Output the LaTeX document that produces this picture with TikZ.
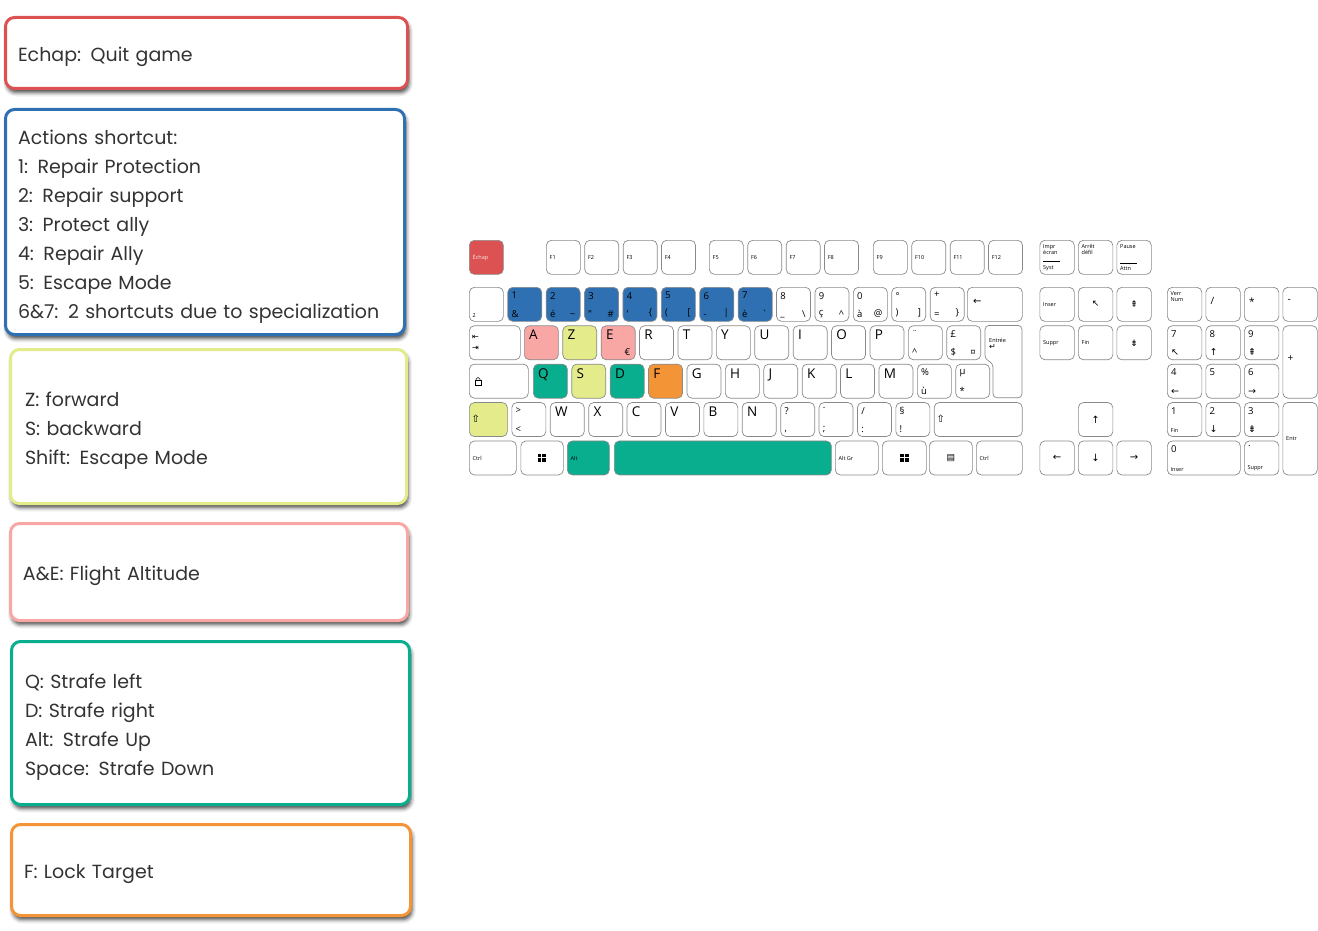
\documentclass[tikz,border=0pt]{standalone}
\usepackage{fontspec}
\setmainfont{Open Sans}
\newfontfamily\boxfont{Poppins}
\newfontfamily\symfont{DejaVu Sans}
\usetikzlibrary{shadows.blur}
\definecolor{escred}{HTML}{DC5252}
\definecolor{actblue}{HTML}{2F70B2}
\definecolor{movyellow}{HTML}{E3EB8A}
\definecolor{altpink}{HTML}{F9A7A5}
\definecolor{strafeteal}{HTML}{08AE8E}
\definecolor{lockorange}{HTML}{F39536}
\definecolor{keyline}{HTML}{8A8A8A}
\newcommand{\winlogo}{\vbox{\offinterlineskip\hbox{\rule{3.6pt}{3.6pt}\kern1pt\rule{4pt}{3.6pt}}\kern1pt\hbox{\rule{3.6pt}{3.6pt}\kern1pt\rule{4pt}{3.6pt}}}}

\begin{document}
\begin{tikzpicture}[x=1pt,y=-1pt,
    legend/.style={draw=#1, line width=3pt, rounded corners=9pt, fill=white, anchor=north west, align=left, inner xsep=0pt, text=black!80, font=\boxfont\fontsize{19}{29}\selectfont, execute at begin node={\rule{0pt}{23pt}}, blur shadow={shadow xshift=1.5pt, shadow yshift=-4pt, shadow blur radius=4pt, shadow opacity=75}},
    key/.style={draw=keyline, line width=0.7pt, rounded corners=5pt, fill=white, anchor=north west, inner sep=0pt, minimum width=34pt, minimum height=34pt},
    lt/.style={label={[anchor=north west, inner sep=0pt, xshift=5pt, yshift=-4.5pt, font=\fontsize{13.5}{14}\selectfont]north west:{#1}}},
    tl/.style={label={[anchor=north west, inner sep=0pt, xshift=4pt, yshift=-5pt, font=\fontsize{9.5}{10}\selectfont]north west:{#1}}},
    bl/.style={label={[anchor=south west, inner sep=0pt, xshift=4pt, yshift=4pt, font=\fontsize{9.5}{10}\selectfont]south west:{#1}}},
    br/.style={label={[anchor=south east, inner sep=0pt, xshift=-5pt, yshift=4pt, font=\fontsize{9.5}{10}\selectfont]south east:{#1}}},
    lm/.style={label={[anchor=west, inner sep=0pt, xshift=5pt, yshift=3pt, font=\fontsize{10}{10}\selectfont]west:{#1}}},
    lw/.style={label={[anchor=west, inner sep=0pt, xshift=3.5pt, font=\fontsize{5.5}{6.5}\selectfont, align=left]west:{#1}}},
    ts/.style={label={[anchor=north west, inner sep=0pt, xshift=3.5pt, yshift=-4pt, font=\fontsize{5.5}{6.5}\selectfont, align=left]north west:{#1}}},
    bs/.style={label={[anchor=south west, inner sep=0pt, xshift=3.5pt, yshift=4pt, font=\fontsize{5.5}{6.5}\selectfont, align=left]south west:{#1}}},
    sym/.style={font=\symfont\fontsize{#1}{#1}\selectfont}
  ]
  \useasboundingbox (0,0) rectangle (1318,931);

  \node[legend=escred, minimum width=402pt, minimum height=71pt, text width=377pt] (quit) at (4,16) {Echap: Quit game};
  \node[legend=actblue, minimum width=399pt, minimum height=225pt, text width=374pt] (actions) at (4,108) {Actions shortcut:\\1: Repair Protection\\2: Repair support\\3: Protect ally\\4: Repair Ally\\5: Escape Mode\\6\&7: 2 shortcuts due to specialization};
  \node[legend=movyellow, minimum width=396pt, minimum height=154pt, text width=367pt] (moves) at (9,348) {Z: forward\\S: backward\\Shift: Escape Mode};
  \node[legend=altpink, minimum width=397pt, minimum height=97pt, text width=372pt] (altitude) at (9,522) {A\&E: Flight Altitude};
  \node[legend=strafeteal, minimum width=398pt, minimum height=163pt, text width=371pt] (strafe) at (10,640) {Q: Strafe left\\D: Strafe right\\Alt: Strafe Up\\Space: Strafe Down};
  \node[legend=lockorange, minimum width=399pt, minimum height=91pt, text width=374pt] (target) at (10,823) {F: Lock Target};

  \node[key, fill=escred, lw={\textcolor{white!85!escred}{Échap}}] (esc) at (469,240) {};
  \foreach \i in {1,...,4} \node[key, lw=F\i] (f\i) at ({546+38.4*(\i-1)},240) {};
  \foreach \i in {5,...,8} \node[key, lw=F\i] (f\i) at ({709+38.4*(\i-5)},240) {};
  \foreach \i in {9,...,12} \node[key, lw=F\i] (f\i) at ({873+38.4*(\i-9)},240) {};

  \node[key, bs=2] (sqr) at (469,287) {};
  \foreach \t/\a/\b [count=\i] in {1/\&/{}, 2/é/\textasciitilde, 3/"/\#, 4/'/\{, 5/(/{[}, 6/-/|, 7/è/\textasciigrave}
    \node[key, fill=actblue, tl=\t, bl=\a, br=\b] (n\i) at ({469+38.4*\i},287) {};
  \foreach \t/\a/\b [count=\i from 8] in {8/\_/\textbackslash, 9/ç/\textasciicircum, 0/à/@, °/)/{]}, +/=/\}}
    \node[key, tl=\t, bl=\a, br=\b] (n\i) at ({469+38.4*\i},287) {};
  \node[key, minimum width=55pt, label={[anchor=west, inner sep=0pt, xshift=6pt, yshift=2pt, font=\symfont\fontsize{10}{10}\selectfont]west:←}] (bksp) at (967,287) {};

  \node[key, minimum width=51pt, label={[anchor=west, inner sep=0pt, xshift=3pt, font=\symfont\fontsize{8}{11}\selectfont, align=left]west:{⇤\\⇥}}] (tab) at (469,325.4) {};
  \node[key, fill=altpink, lt=A] (ka) at (524,325.4) {};
  \node[key, fill=movyellow, lt=Z] (kz) at (562.4,325.4) {};
  \node[key, fill=altpink, lt=E, br=€] (ke) at (600.8,325.4) {};
  \foreach \t [count=\i from 3] in {R,T,Y,U,I,O,P}
    \node[key, lt=\t] (k\t) at ({524+38.4*\i},325.4) {};
  \node[key, tl=¨, bl=\textasciicircum] (trema) at (908,325.4) {};
  \node[key, tl=£, bl=\$, br=¤] (pound) at (946.4,325.4) {};
  \draw[draw=keyline, line width=0.7pt, rounded corners=4pt, fill=white] (985,325.4) -- (1022,325.4) -- (1022,397.8) -- (993,397.8) -- (993,363) -- (985,359.4) -- cycle;
  \node[anchor=north west, inner sep=0pt, align=left, font=\fontsize{5.5}{7}\selectfont] (enter) at (989,338) {Entrée\\{\symfont\fontsize{8}{8}\selectfont ↵}};

  \node[key, minimum width=59pt] (caps) at (469,363.8) {};
  \draw[line width=0.5pt, rounded corners=1.5pt] ([shift={(7,-1)}]caps.west) -- ++(0,-2.5) -- ++(4,0) -- ++(0,2.5);
  \draw[line width=0.5pt, fill=white] ([shift={(6,-1)}]caps.west) rectangle ([shift={(12,4)}]caps.west);
  \node[key, fill=strafeteal, lt=Q] (kq) at (533,363.8) {};
  \node[key, fill=movyellow, lt=S] (ks) at (571.4,363.8) {};
  \node[key, fill=strafeteal, lt=D] (kd) at (609.8,363.8) {};
  \node[key, fill=lockorange, lt=F] (kf) at (648.2,363.8) {};
  \foreach \t [count=\i from 4] in {G,H,J,K,L,M}
    \node[key, lt=\t] (k\t) at ({533+38.4*\i},363.8) {};
  \node[key, tl=\%, bl=ù] (pct) at (917,363.8) {};
  \node[key, tl=µ, bl=*] (mu) at (955.4,363.8) {};

  \node[key, fill=movyellow, minimum width=38pt, label={[anchor=west, inner sep=0pt, xshift=2.5pt, yshift=1pt, font=\symfont\fontsize{10}{10}\selectfont]west:⇧}] (lshift) at (469,402.2) {};
  \node[key, tl={>}, bl={<}] (angle) at (511.5,402.2) {};
  \foreach \t [count=\i] in {W,X,C,V,B,N}
    \node[key, lt=\t] (k\t) at ({511.5+38.4*\i},402.2) {};
  \node[key, tl=?, bl={,}] (quest) at (780.3,402.2) {};
  \node[key, tl=., bl=;] (dot) at (818.7,402.2) {};
  \node[key, tl=/, bl={:}] (slash) at (857.1,402.2) {};
  \node[key, tl=§, bl=!] (sect) at (895.5,402.2) {};
  \node[key, minimum width=88pt, label={[anchor=west, inner sep=0pt, xshift=2.5pt, yshift=1pt, font=\symfont\fontsize{10}{10}\selectfont]west:⇧}] (rshift) at (933.9,402.2) {};

  \node[key, minimum width=47pt, lw=Ctrl] (lctrl) at (469,440.6) {};
  \node[key, minimum width=42.5pt] (lwin) at (520.5,440.6) {\winlogo};
  \node[key, fill=strafeteal, minimum width=42pt, lw=Alt] (alt) at (567,440.6) {};
  \node[key, fill=strafeteal, minimum width=217pt] (space) at (614,440.6) {};
  \node[key, minimum width=43pt, lw={Alt Gr}] (altgr) at (835,440.6) {};
  \node[key, minimum width=44pt] (rwin) at (882,440.6) {\winlogo};
  \node[key, minimum width=43pt, sym=9] (menu) at (929,440.6) {▤};
  \node[key, minimum width=46pt, lw=Ctrl] (rctrl) at (976,440.6) {};

  \node[key, minimum width=34.5pt, ts={Impr\\écran}, bs={\rule{17pt}{0.4pt}\\[1pt]Syst}] (prt) at (1039.5,240) {};
  \node[key, minimum width=34.5pt, ts={Arrêt\\défil}] (scrl) at (1078,240) {};
  \node[key, minimum width=34.5pt, ts={Pause}, bs={\rule{17pt}{0.4pt}\\[1pt]Attn}] (pause) at (1116.5,240) {};
  \node[key, minimum width=34.5pt, lw=Inser] (ins) at (1039.5,287) {};
  \node[key, minimum width=34.5pt, sym=9] (home) at (1078,287) {↖};
  \node[key, minimum width=34.5pt, sym=9] (pgup) at (1116.5,287) {⇞};
  \node[key, minimum width=34.5pt, lw=Suppr] (del) at (1039.5,325.4) {};
  \node[key, minimum width=34.5pt, lw=Fin] (end) at (1078,325.4) {};
  \node[key, minimum width=34.5pt, sym=9] (pgdn) at (1116.5,325.4) {⇟};
  \node[key, minimum width=34.5pt, sym=10] (up) at (1078,402.2) {↑};
  \node[key, minimum width=34.5pt, sym=10] (left) at (1039.5,440.6) {←};
  \node[key, minimum width=34.5pt, sym=10] (down) at (1078,440.6) {↓};
  \node[key, minimum width=34.5pt, sym=10] (right) at (1116.5,440.6) {→};

  \node[key, minimum width=34.5pt, ts={Verr\\Num}] (numlk) at (1167,287) {};
  \node[key, minimum width=34.5pt, lm=/] (kpdiv) at (1205.5,287) {};
  \node[key, minimum width=34.5pt, lm=*] (kpmul) at (1244,287) {};
  \node[key, minimum width=34.5pt, lm=-] (kpsub) at (1282.5,287) {};
  \node[key, minimum width=34.5pt, tl=7, bl={\symfont ↖}] (kp7) at (1167,325.4) {};
  \node[key, minimum width=34.5pt, tl=8, bl={\symfont ↑}] (kp8) at (1205.5,325.4) {};
  \node[key, minimum width=34.5pt, tl=9, bl={\symfont ⇞}] (kp9) at (1244,325.4) {};
  \node[key, minimum width=34.5pt, minimum height=72.4pt, lm=+] (kpadd) at (1282.5,325.4) {};
  \node[key, minimum width=34.5pt, tl=4, bl={\symfont ←}] (kp4) at (1167,363.8) {};
  \node[key, minimum width=34.5pt, tl=5] (kp5) at (1205.5,363.8) {};
  \node[key, minimum width=34.5pt, tl=6, bl={\symfont →}] (kp6) at (1244,363.8) {};
  \node[key, minimum width=34.5pt, tl=1, bs=Fin] (kp1) at (1167,402.2) {};
  \node[key, minimum width=34.5pt, tl=2, bl={\symfont ↓}] (kp2) at (1205.5,402.2) {};
  \node[key, minimum width=34.5pt, tl=3, bl={\symfont ⇟}] (kp3) at (1244,402.2) {};
  \node[key, minimum width=34.5pt, minimum height=72.4pt, lw=Entr] (kpent) at (1282.5,402.2) {};
  \node[key, minimum width=73pt, tl=0, bs=Inser] (kp0) at (1167,440.6) {};
  \node[key, minimum width=34.5pt, tl=., bs=Suppr] (kpdot) at (1244,440.6) {};
\end{tikzpicture}
\end{document}
